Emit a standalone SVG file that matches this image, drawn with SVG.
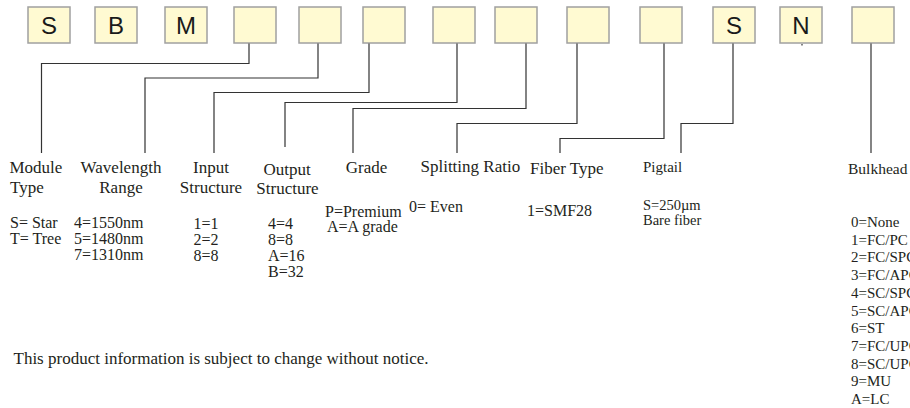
<svg xmlns="http://www.w3.org/2000/svg" width="910" height="408" viewBox="0 0 910 408">
<style>
.box{fill:#fffad2;stroke:#a0a0a0;stroke-width:1.5}
.code{font-family:"Liberation Sans",Arial,sans-serif;font-size:24px;fill:#1a1a1a;text-anchor:middle}
.lbl{font-family:"Liberation Serif","Times New Roman",serif;font-size:17px;fill:#231f20}
.val{font-size:16px}
.sm{font-size:15px}
.xs{font-size:14.5px}
.mid{text-anchor:middle}
.con{fill:none;stroke:#333;stroke-width:1.2}
</style>
<rect width="910" height="408" fill="#fff"/>
<g id="box1"><rect class="box" x="28" y="7" width="42" height="36"/><text class="code" x="49" y="34">S</text></g>
<g id="box2"><rect class="box" x="95" y="7" width="42" height="36"/><text class="code" x="116" y="34">B</text></g>
<g id="box3"><rect class="box" x="165" y="7" width="42" height="36"/><text class="code" x="186" y="34">M</text></g>
<g id="box4"><rect class="box" x="234" y="7" width="42" height="36"/></g>
<g id="box5"><rect class="box" x="299" y="7" width="42" height="36"/></g>
<g id="box6"><rect class="box" x="363" y="7" width="42" height="36"/></g>
<g id="box7"><rect class="box" x="433" y="7" width="42" height="36"/></g>
<g id="box8"><rect class="box" x="495" y="7" width="42" height="36"/></g>
<g id="box9"><rect class="box" x="567" y="7" width="42" height="36"/></g>
<g id="box10"><rect class="box" x="640" y="7" width="42" height="36"/></g>
<g id="box11"><rect class="box" x="713" y="7" width="42" height="36"/><text class="code" x="734" y="34">S</text></g>
<g id="box12"><rect class="box" x="780" y="7" width="42" height="36"/><text class="code" x="801" y="34">N</text></g>
<g id="box13"><rect class="box" x="852" y="7" width="42" height="36"/></g>
<g id="connectors">
<polyline class="con" points="249,43.5 249,63.5 41.5,63.5 41.5,153"/>
<polyline class="con" points="318,43.5 318,78 145,78 145,153"/>
<polyline class="con" points="369,43.5 369,92.5 214,92.5 214,153"/>
<polyline class="con" points="457,43.5 457,102.5 285,102.5 285,147"/>
<polyline class="con" points="526,43.5 526,108.5 353,108.5 353,153"/>
<polyline class="con" points="577,43.5 577,123.5 457,123.5 457,153"/>
<polyline class="con" points="664,43.5 664,138.5 560,138.5 560,153"/>
<polyline class="con" points="733,43.5 733,123.5 681,123.5 681,153"/>
<polyline class="con" points="871,43.5 871,153"/>
<line class="con" x1="802" y1="44" x2="802" y2="45.5" stroke-width="1"/>
</g>
<g id="labels" class="lbl">
<text x="9.5" y="172.5">Module</text>
<text x="10" y="192.5">Type</text>
<text class="mid" x="121" y="172.5">Wavelength</text>
<text class="mid" x="121" y="192.5">Range</text>
<text class="mid" x="211" y="173">Input</text>
<text class="mid" x="211" y="193">Structure</text>
<text class="mid" x="287" y="174.5">Output</text>
<text class="mid" x="287.5" y="194">Structure</text>
<text class="mid" x="366.5" y="173">Grade</text>
<text x="420.5" y="172">Splitting Ratio</text>
<text x="530" y="174">Fiber Type</text>
<text class="sm" x="643" y="172">Pigtail</text>
<text x="848" y="173.5" font-size="15.5">Bulkhead</text>
</g>
<g id="values" class="lbl val">
<text x="10" y="228">S= Star</text>
<text x="10" y="244">T= Tree</text>
<text x="74" y="228">4=1550nm</text>
<text x="74" y="244">5=1480nm</text>
<text x="74" y="260">7=1310nm</text>
<text class="mid" x="206" y="229">1=1</text>
<text class="mid" x="206" y="245">2=2</text>
<text class="mid" x="206" y="261">8=8</text>
<text x="268" y="229">4=4</text>
<text x="268" y="245">8=8</text>
<text x="268" y="261">A=16</text>
<text x="268" y="277">B=32</text>
<text x="325" y="216.5">P=Premium</text>
<text x="327" y="232">A=A grade</text>
<text x="409" y="211.5">0= Even</text>
<text x="527" y="216">1=SMF28</text>
<text class="xs" x="643" y="210">S=250µm</text>
<text class="xs" x="643" y="224.5">Bare fiber</text>
</g>
<g id="bulkhead" class="lbl sm">
<text x="851" y="227">0=None</text>
<text x="851" y="244.7">1=FC/PC</text>
<text x="851" y="262.4">2=FC/SPC</text>
<text x="851" y="280.1">3=FC/APC</text>
<text x="851" y="297.8">4=SC/SPC</text>
<text x="851" y="315.5">5=SC/APC</text>
<text x="851" y="333.2">6=ST</text>
<text x="851" y="350.9">7=FC/UPC</text>
<text x="851" y="368.6">8=SC/UPC</text>
<text x="851" y="386.3">9=MU</text>
<text x="851" y="404">A=LC</text>
</g>
<text class="lbl" x="13.5" y="364" font-size="17">This product information is subject to change without notice.</text>
</svg>
